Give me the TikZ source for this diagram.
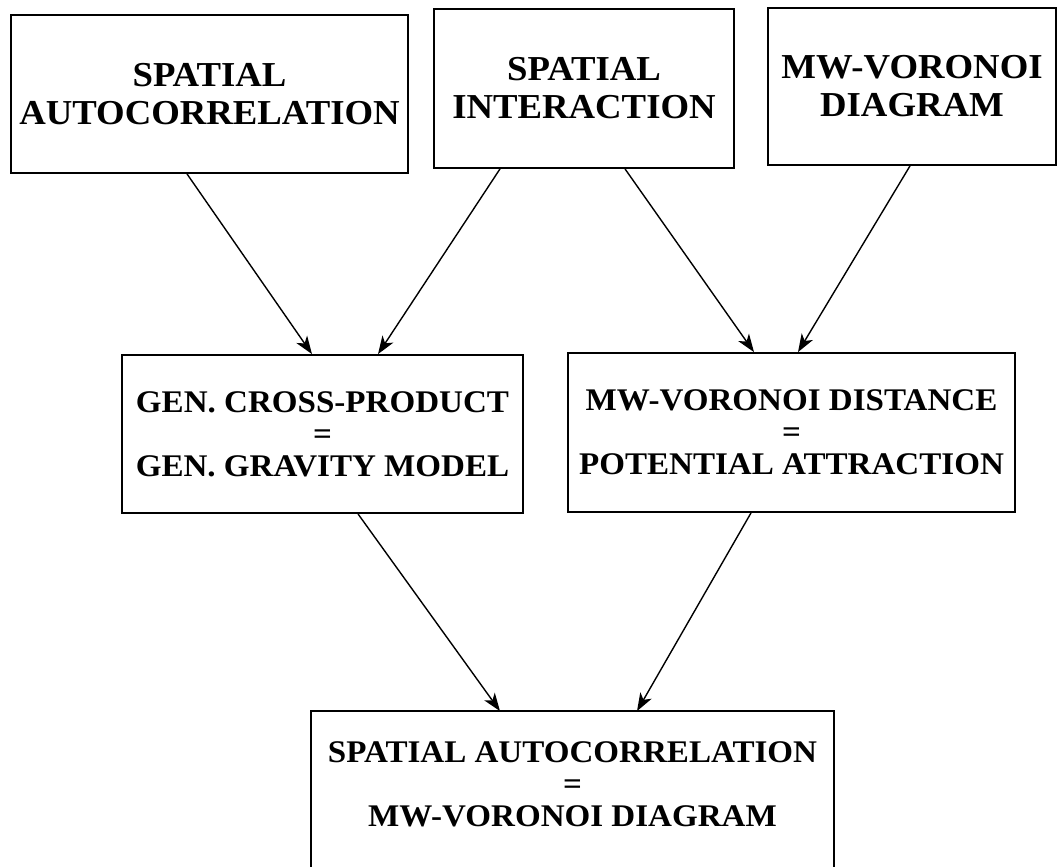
\documentclass[tikz,border=0pt]{standalone}
\usepackage{fontspec}
\setmainfont{Liberation Serif}[FakeStretch=1.05]
\usetikzlibrary{arrows.meta}

\begin{document}
\begin{tikzpicture}[x=1pt, y=-1pt, line width=1.4pt,
	>={Stealth[length=18pt,width=13pt,inset=5pt]},
	topbox/.style={draw, line width=1.8pt, align=center, inner sep=0pt, font=\bfseries\fontsize{35}{38}\selectfont},
	midbox/.style={draw, line width=1.8pt, align=center, inner sep=0pt, font=\bfseries\fontsize{31.5}{32}\selectfont}]
\useasboundingbox (0,0) rectangle (1057,867);

% top row
\node [topbox, minimum width=397pt, minimum height=158pt] (sa) at (209.5, 94) {SPATIAL\\AUTOCORRELATION};
\node [topbox, minimum width=300pt, minimum height=159pt] (si) at (584, 88.5) {SPATIAL\\INTERACTION};
\node [topbox, minimum width=288pt, minimum height=157pt] (mwv) at (912, 86.5) {MW-VORONOI\\DIAGRAM};

% middle row
\node [midbox, minimum width=401pt, minimum height=158pt] (gen) at (322.5, 434) {GEN. CROSS-PRODUCT\\=\\GEN. GRAVITY MODEL};
\node [midbox, minimum width=447pt, minimum height=159pt] (mwd) at (791.5, 432.5) {MW-VORONOI DISTANCE\\=\\POTENTIAL ATTRACTION};

% result box, runs off the bottom edge
\node [midbox, draw=none, minimum width=521pt, minimum height=144pt] (res) at (572.5, 784) {SPATIAL AUTOCORRELATION\\=\\MW-VORONOI DIAGRAM};
\draw [line width=1.8pt] ([yshift=-40pt]res.south west) |- (res.north east) -- ([yshift=-40pt]res.south east);

\draw [->] ([xshift=-22.5pt]sa.south) -- ([xshift=-10.5pt]gen.north);
\draw [->] ([xshift=-84pt]si.south) -- ([xshift=55.5pt]gen.north);
\draw [->] ([xshift=41pt]si.south) -- ([xshift=-37.5pt]mwd.north);
\draw [->] ([xshift=-2pt]mwv.south) -- ([xshift=6.5pt]mwd.north);
\draw [->] ([xshift=35.5pt]gen.south) -- ([xshift=-72.5pt]res.north);
\draw [->] ([xshift=-40.5pt]mwd.south) -- ([xshift=64.5pt]res.north);

\end{tikzpicture}
\end{document}
